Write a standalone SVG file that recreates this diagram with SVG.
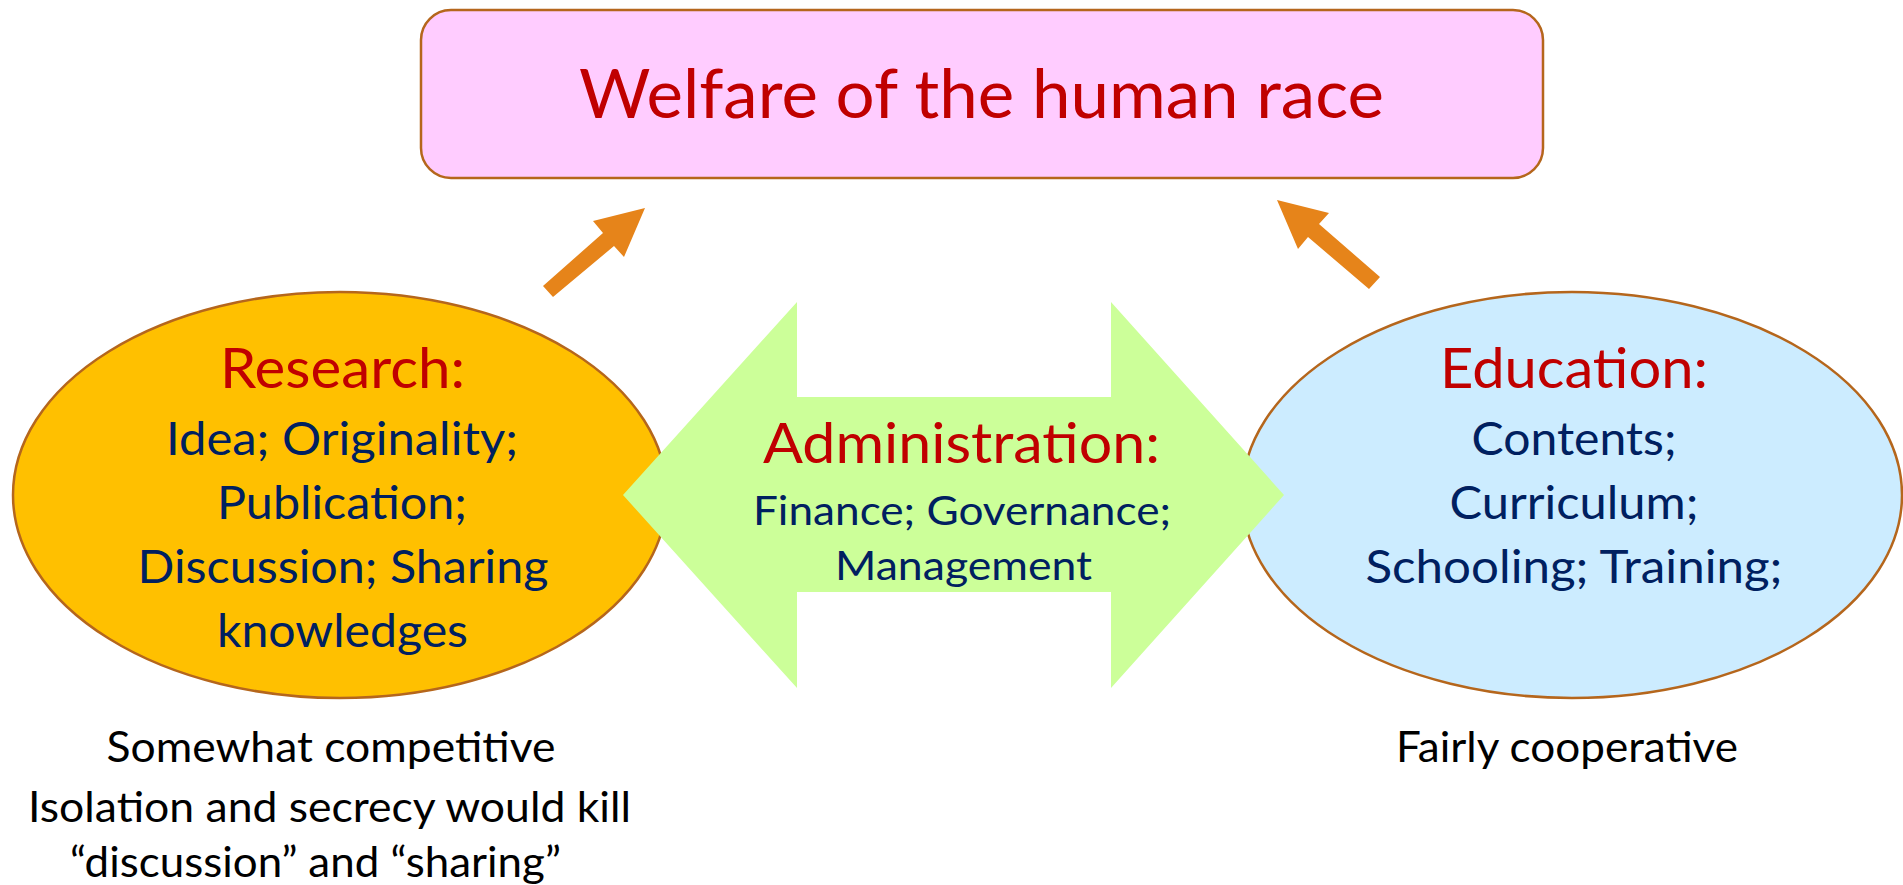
<svg xmlns="http://www.w3.org/2000/svg" width="1903" height="885" viewBox="0 0 1903 885">
  <style>
    text { font-family: Lato, "Open Sans", "Liberation Sans", sans-serif; text-anchor: middle; }
    .head { fill: #C00000; font-size: 56px; }
    .body { fill: #002060; font-size: 46px; }
    .small { fill: #002060; font-size: 40px; }
    .note { fill: #000000; font-size: 43px; }
    .outline { stroke: #B5661C; stroke-width: 2.5; }
    .conn { fill: #E6841A; stroke: none; }
  </style>
  <rect width="1903" height="885" fill="#FFFFFF"/>

  <g id="welfare">
    <rect class="outline" x="421" y="10" width="1122" height="168" rx="30" ry="30" fill="#FFCCFF"/>
    <text x="981.5" y="118" fill="#C00000" font-size="67" textLength="805" lengthAdjust="spacingAndGlyphs">Welfare of the human race</text>
  </g>

  <g id="research">
    <ellipse class="outline" cx="340" cy="495" rx="327" ry="203" fill="#FFC000"/>
    <text class="head" x="342.5" y="388" textLength="245" lengthAdjust="spacingAndGlyphs">Research:</text>
    <text class="body" x="342" y="455" textLength="352" lengthAdjust="spacingAndGlyphs">Idea; Originality;</text>
    <text class="body" x="342" y="519" textLength="250" lengthAdjust="spacingAndGlyphs">Publication;</text>
    <text class="body" x="343" y="583" textLength="411" lengthAdjust="spacingAndGlyphs">Discussion; Sharing</text>
    <text class="body" x="342.5" y="647" textLength="251" lengthAdjust="spacingAndGlyphs">knowledges</text>
  </g>

  <g id="education">
    <ellipse class="outline" cx="1572" cy="495" rx="330" ry="203" fill="#CCECFF"/>
    <text class="head" x="1574" y="388" textLength="268" lengthAdjust="spacingAndGlyphs">Education:</text>
    <text class="body" x="1574" y="455" textLength="205" lengthAdjust="spacingAndGlyphs">Contents;</text>
    <text class="body" x="1574" y="519" textLength="249" lengthAdjust="spacingAndGlyphs">Curriculum;</text>
    <text class="body" x="1574" y="583" textLength="417" lengthAdjust="spacingAndGlyphs">Schooling; Training;</text>
  </g>

  <g id="administration">
    <polygon points="623,495 797,302 797,397 1111,397 1111,302 1284,495 1111,688 1111,592 797,592 797,688" fill="#CCFF99"/>
    <text class="head" x="961.5" y="463" textLength="397" lengthAdjust="spacingAndGlyphs">Administration:</text>
    <text class="small" x="962" y="525" textLength="418" lengthAdjust="spacingAndGlyphs">Finance; Governance;</text>
    <text class="small" x="963.5" y="580" textLength="257" lengthAdjust="spacingAndGlyphs">Management</text>
  </g>

  <g id="connectors">
    <polygon class="conn" points="543,286 603,233 593,221 645,208 624,257 614,246 553,297"/>
    <polygon class="conn" points="1277,200 1329,213 1319,224 1380,277 1369,289 1308,237 1298,249"/>
  </g>

  <g id="research-note">
    <text class="note" x="331" y="762" textLength="449" lengthAdjust="spacingAndGlyphs">Somewhat competitive</text>
    <text class="note" x="329.5" y="822" textLength="603" lengthAdjust="spacingAndGlyphs">Isolation and secrecy would kill</text>
    <text class="note" x="315.5" y="877" textLength="491" lengthAdjust="spacingAndGlyphs">“discussion” and “sharing”</text>
  </g>

  <g id="education-note">
    <text class="note" x="1567" y="762" textLength="342" lengthAdjust="spacingAndGlyphs">Fairly cooperative</text>
  </g>
</svg>
